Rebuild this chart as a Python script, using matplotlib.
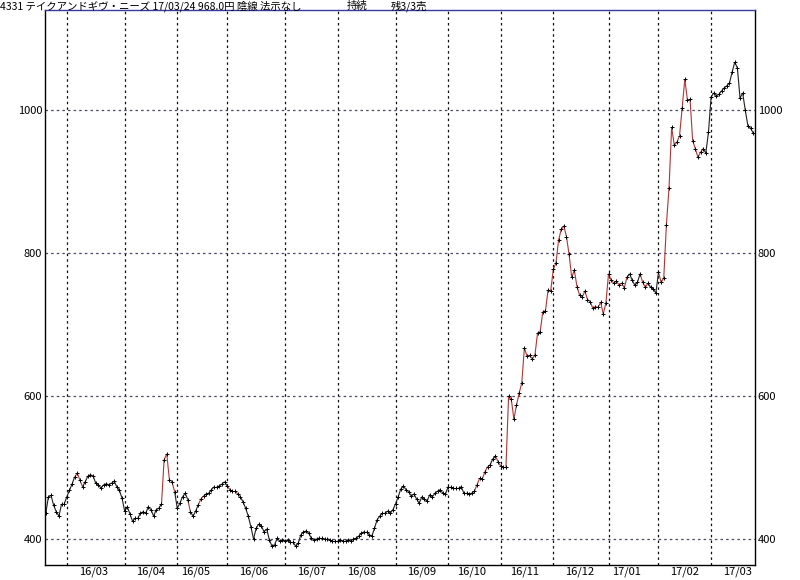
import numpy as np
import pandas as pd
import matplotlib
matplotlib.use("Agg")
import matplotlib.pyplot as plt
from matplotlib.collections import LineCollection

plt.rcParams['font.family'] = ['Noto Sans CJK JP', 'DejaVu Sans']

# daily closes, one list per month
feb16 = [436, 459, 461, 447, 438, 432, 449, 449]
mar16 = [459, 468, 477, 487, 492, 482, 473, 480, 488, 490, 488, 478, 476, 471, 476,
         477, 476, 478, 481, 473, 468, 457]
apr16 = [439, 445, 435, 425, 429, 429, 436, 438, 436, 445, 441, 432, 441, 443, 449,
         511, 519, 483, 480, 466]
may16 = [443, 450, 459, 464, 455, 438, 432, 439, 448, 456, 460, 463, 464, 469, 473,
         473, 474, 477, 480]
jun16 = [474, 469, 467, 467, 463, 459, 452, 443, 432, 417, 400, 415, 421, 418, 410,
         414, 399, 390, 392, 401, 397, 399]
jul16 = [397, 399, 396, 396, 390, 394, 406, 410, 411, 408, 401, 399, 400, 401, 401,
         400, 400, 399, 397, 397]
aug16 = [397, 399, 397, 397, 399, 397, 400, 401, 404, 408, 410, 410, 406, 404, 415,
         427, 432, 436, 436, 439, 436, 441]
sep16 = [449, 459, 470, 474, 469, 466, 460, 463, 456, 450, 459, 456, 453, 462, 459,
         464, 467, 469, 464, 463]
oct16 = [473, 473, 471, 471, 471, 473, 464, 464, 463, 464, 467, 476, 485, 484, 494,
         501, 504, 512, 516, 508]
nov16 = [502, 501, 501, 600, 596, 568, 587, 604, 618, 667, 656, 657, 652, 657, 688,
         690, 718, 719, 748, 747]
dec16 = [777, 786, 818, 833, 838, 823, 798, 766, 776, 753, 741, 738, 747, 735, 732,
         723, 725, 724, 731, 715, 730]
jan17 = [771, 762, 758, 761, 755, 758, 751, 766, 771, 762, 755, 759, 771, 759, 752,
         758, 752, 750, 744]
feb17 = [773, 759, 765, 839, 891, 976, 951, 955, 964, 1003, 1043, 1014, 1015, 957, 946,
         934, 941, 946, 940, 969]
mar17 = [1018, 1024, 1020, 1022, 1027, 1031, 1034, 1038, 1053, 1067, 1059, 1017, 1024,
         1000, 978, 975, 968]

# exchange holidays (weekdays) in the period
holidays = ["2016-03-21", "2016-04-29", "2016-05-03", "2016-05-04", "2016-05-05",
            "2016-07-18", "2016-08-11", "2016-09-19", "2016-09-22", "2016-10-10",
            "2016-11-03", "2016-11-23", "2016-12-23", "2017-01-02", "2017-01-03",
            "2017-01-09", "2017-03-20"]

# segments drawn in red (start index, end index)
red_runs = [(11, 14), (16, 18), (44, 49), (54, 55), (58, 60), (69, 74),
            (163, 169), (171, 221), (226, 229), (233, 250)]

y_ticks = [400, 600, 800, 1000]

closes = np.array(feb16 + mar16 + apr16 + may16 + jun16 + jul16 + aug16 + sep16
                  + oct16 + nov16 + dec16 + jan17 + feb17 + mar17, dtype=float)

days = pd.bdate_range("2016-02-18", "2017-03-24")
days = days[~days.isin(pd.to_datetime(holidays))]
x = np.arange(len(closes))

fig = plt.figure(figsize=(8, 5.8), dpi=100)
ax = fig.add_axes([45 / 800, 1 - 565 / 580, 710 / 800, 555 / 580])

# month boundaries and label positions
months = pd.period_range("2016-03", "2017-03", freq="M")
starts = [np.searchsorted(days, m.start_time) for m in months]
mids = [np.searchsorted(days, m.start_time + pd.Timedelta(days=14)) for m in months]
labels = [m.strftime("%y/%m") for m in months]

for s in starts:
    ax.axvline(s, color="#101010", lw=0.9, ls=(0, (2, 2.5)), zorder=1)
for v in y_ticks:
    ax.axhline(v, color="#4a4a6a", lw=0.9, ls=(0, (2, 2.5)), zorder=1)

pts = np.column_stack([x, closes])
segs = np.stack([pts[:-1], pts[1:]], axis=1)
cols = ["#202020"] * len(segs)
for a, b in red_runs:
    for i in range(a, b):
        cols[i] = "#b03535"
ax.add_collection(LineCollection(segs, colors=cols, linewidths=0.8, zorder=2))
ax.plot(x, closes, "+", color="black", ms=2.5, mew=0.7, zorder=3)

ax.set_xlim(-0.3, len(closes) - 0.3)
ax.set_ylim(363.6, 1140)
ax.set_xticks(mids)
ax.set_xticklabels(labels)
ax.set_yticks(y_ticks)
ax.tick_params(axis="both", length=0, labelsize=8, colors="black")
ax.tick_params(axis="y", labelright=True, pad=2)
ax.tick_params(axis="x", pad=1)

for side in ["left", "right", "bottom"]:
    ax.spines[side].set_color("black")
    ax.spines[side].set_linewidth(1.0)
ax.spines["top"].set_color("#3a3aa0")
ax.spines["top"].set_linewidth(1.0)

fig.text(0.0, 1 - 6 / 580, "4331 テイクアンドギヴ・ニーズ 17/03/24 968.0円 陰線 法示なし",
         fontsize=7.5, va="center", ha="left")
fig.text(347 / 800, 1 - 6 / 580, "持続", fontsize=7.5, va="center", ha="left")
fig.text(391 / 800, 1 - 6 / 580, "残3/3売", fontsize=7.5, va="center", ha="left")

fig.savefig("out.png", dpi=100)
